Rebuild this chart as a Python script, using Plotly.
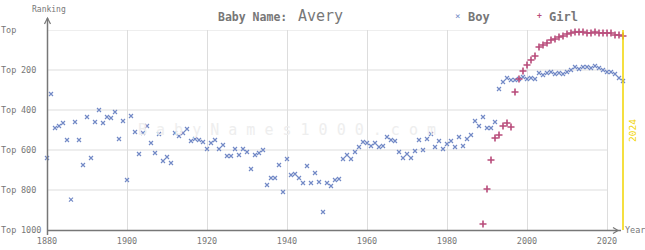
import plotly.graph_objects as go

# ---------------- data ----------------
boy_years = list(range(1880, 2025))
boy_ranks = [
    640, 320, 490, 480, 465, 550, 848, 460, 550, 675,   # 1880-1889
    435, 640, 460, 400, 465, 435, 440, 410, 545, 455,   # 1890-1899
    750, 430, 510, 620, 515, 480, 565, 615, 520, 655,   # 1900-1909
    635, 665, 515, 530, 515, 495, 555, 545, 550, 560,   # 1910-1919
    595, 565, 550, 595, 575, 630, 630, 595, 625, 595,   # 1920-1929
    610, 695, 625, 615, 600, 775, 740, 740, 675, 810,   # 1930-1939
    645, 725, 720, 740, 765, 680, 765, 715, 760, 910,   # 1940-1949
    765, 780, 750, 745, 645, 625, 645, 610, 585, 560,   # 1950-1959
    565, 580, 565, 585, 580, 535, 550, 555, 610, 640,   # 1960-1969
    620, 640, 605, 550, 600, 545, 520, 585, 555, 595,   # 1970-1979
    570, 555, 585, 535, 580, 545, 525, 455, 480, 435,   # 1980-1989
    490, 490, 460, 295, 260, 240, 250, 250, 245, 235,   # 1990-1999
    245, 240, 245, 215, 225, 215, 210, 220, 215, 220,   # 2000-2009
    210, 200, 185, 195, 185, 185, 190, 180, 190, 200,   # 2010-2019
    210, 210, 220, 240, 255,                            # 2020-2024
]
girl_years = list(range(1989, 2025))
girl_ranks = [
    970,                                                # 1989
    795, 650, 540, 525, 480, 465, 485, 310, 245, 205,   # 1990-1999
    175, 150, 130, 85, 75, 65, 50, 45, 35, 30,          # 2000-2009
    20, 15, 10, 10, 10, 15, 15, 10, 15, 15,             # 2010-2019
    15, 15, 25, 25, 30,                                 # 2020-2024
]
x_ticks = [1880, 1900, 1920, 1940, 1960, 1980, 2000, 2020]
y_ticks = [0, 200, 400, 600, 800, 1000]
y_tick_prefix = "Top"
y_tick_numbers = ["", "200", "400", "600", "800", "1000"]
current_year = 2024
name = "Avery"
series_names = ["Boy", "Girl"]

# ---------------- styles ----------------
W, H = 645, 250
L, R, T, B = 47, 10, 30, 20
PW, PH = W - L - R, H - T - B
X0 = 1880
PX_PER_YEAR = 4.0
x_range = [X0, X0 + PW / PX_PER_YEAR]

MONO = "DejaVu Sans Mono"
GRAY = "#777777"
AXIS = "#777777"
GRID = "#dddddd"
BOY = "#7289c6"
GIRL = "#b84b7a"
YELLOW = "#f2d400"


def px(xp):
    return (xp - L) / PW


def py(yp):
    return (H - B - yp) / PH


fig = go.Figure()
fig.add_trace(go.Scatter(
    x=boy_years, y=boy_ranks, mode="markers", name=series_names[0],
    marker=dict(symbol="x-thin", size=4, color=BOY, line=dict(color=BOY, width=1.2)),
    cliponaxis=False, showlegend=False,
))
fig.add_trace(go.Scatter(
    x=girl_years, y=girl_ranks, mode="markers", name=series_names[1],
    marker=dict(symbol="cross-thin", size=5, color=GIRL, line=dict(color=GIRL, width=1.6)),
    cliponaxis=False, showlegend=False,
))

shapes = []
# horizontal grid lines (to 2020)
for v in y_ticks[:-1]:
    shapes.append(dict(type="line", xref="x", yref="y", x0=X0, x1=x_ticks[-1], y0=v, y1=v,
                       line=dict(color=GRID, width=1.2), layer="below"))
# current year line
shapes.append(dict(type="line", xref="x", yref="paper", x0=current_year, x1=current_year, y0=0, y1=1,
                   line=dict(color=YELLOW, width=1.5)))
# y axis line with arrow
shapes.append(dict(type="line", xref="paper", yref="paper", x0=px(47.5), x1=px(47.5), y0=py(235), y1=py(18),
                   line=dict(color=AXIS, width=1.5)))
shapes.append(dict(type="path", xref="paper", yref="paper",
                   path=f"M {px(44.5)},{py(24)} L {px(47.5)},{py(18)} L {px(50.5)},{py(24)}",
                   line=dict(color=AXIS, width=1.2)))
# x axis line with arrow
shapes.append(dict(type="line", xref="paper", yref="paper", x0=px(47), x1=px(621), y0=py(230.5), y1=py(230.5),
                   line=dict(color=AXIS, width=1.5)))
shapes.append(dict(type="path", xref="paper", yref="paper",
                   path=f"M {px(613)},{py(227.5)} L {px(618)},{py(230.5)} L {px(613)},{py(233.5)}",
                   line=dict(color=AXIS, width=1.2)))

annotations = [
    dict(text="B a b y N a m e s 1 0 0 0 . c o m", x=px(287), y=py(130), xref="paper", yref="paper",
         showarrow=False, font=dict(family=MONO, size=15, color="#eeeeee"), xanchor="center", yanchor="middle"),
    dict(text="<b>Baby Name:</b>", x=px(216), y=py(17), xref="paper", yref="paper", showarrow=False,
         font=dict(family=MONO, size=11.5, color=GRAY), xanchor="left", yanchor="middle"),
    dict(text=name, x=px(296), y=py(16), xref="paper", yref="paper", showarrow=False,
         font=dict(family=MONO, size=15, color=GRAY), xanchor="left", yanchor="middle"),
    dict(text="Ranking", x=px(49), y=py(9), xref="paper", yref="paper", showarrow=False,
         font=dict(family=MONO, size=8, color=GRAY), xanchor="center", yanchor="middle"),
    dict(text="Year", x=px(623), y=py(230), xref="paper", yref="paper", showarrow=False,
         font=dict(family=MONO, size=8.5, color=GRAY), xanchor="left", yanchor="middle"),
    dict(text=str(current_year), x=px(632), y=py(131), xref="paper", yref="paper", showarrow=False,
         textangle=-90, font=dict(family=MONO, size=9.5, color=YELLOW), xanchor="center", yanchor="middle"),
    # legend
    dict(text="\u00d7", x=px(457), y=py(16), xref="paper", yref="paper", showarrow=False,
         font=dict(family=MONO, size=9, color=BOY), xanchor="center", yanchor="middle"),
    dict(text="<b>" + series_names[0] + "</b>", x=px(466), y=py(17), xref="paper", yref="paper", showarrow=False,
         font=dict(family=MONO, size=12, color=GRAY), xanchor="left", yanchor="middle"),
    dict(text="<b>+</b>", x=px(539), y=py(16), xref="paper", yref="paper", showarrow=False,
         font=dict(family=MONO, size=8, color=GIRL), xanchor="center", yanchor="middle"),
    dict(text="<b>" + series_names[1] + "</b>", x=px(547), y=py(17), xref="paper", yref="paper", showarrow=False,
         font=dict(family=MONO, size=12, color=GRAY), xanchor="left", yanchor="middle"),
]
# left-aligned y-axis labels: "Top" and the number in two columns
for v, num in zip(y_ticks, y_tick_numbers):
    annotations.append(dict(text=y_tick_prefix, x=px(-1), y=v, xref="paper", yref="y", showarrow=False,
                            font=dict(family=MONO, size=8.5, color=GRAY), xanchor="left", yanchor="middle"))
    if num:
        annotations.append(dict(text=num, x=px(18.5), y=v, xref="paper", yref="y", showarrow=False,
                                font=dict(family=MONO, size=8.5, color=GRAY), xanchor="left", yanchor="middle"))

fig.update_layout(
    width=W, height=H,
    margin=dict(l=L, r=R, t=T, b=B, pad=0, autoexpand=False),
    paper_bgcolor="white", plot_bgcolor="white",
    showlegend=False,
    xaxis=dict(range=x_range, tickvals=x_ticks, showgrid=True, gridcolor=GRID, gridwidth=1.2,
               zeroline=False, showline=False, ticks="", automargin=False,
               tickfont=dict(family=MONO, size=8.5, color=GRAY), ticklabelstandoff=4),
    yaxis=dict(range=[1000, 0], tickvals=y_ticks, showticklabels=False, showgrid=False,
               zeroline=False, showline=False, ticks="", automargin=False),
    shapes=shapes,
    annotations=annotations,
)

fig.write_html("out.html")
